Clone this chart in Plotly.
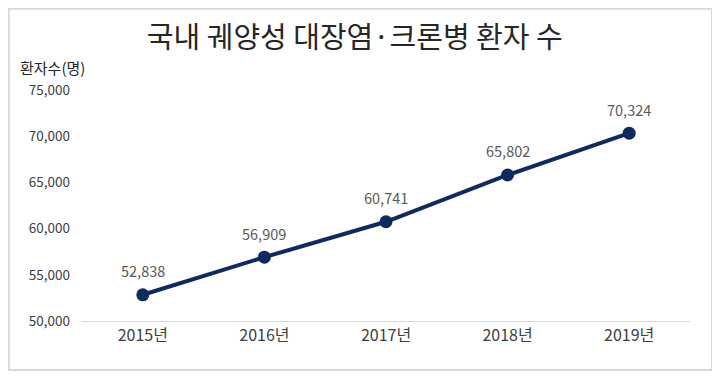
import plotly.graph_objects as go

years = ["2015년", "2016년", "2017년", "2018년", "2019년"]
patients = [52838, 56909, 60741, 65802, 70324]
y_ticks = [50000, 55000, 60000, 65000, 70000, 75000]
y_ticktext = ["50,000", "55,000", "60,000", "65,000", "70,000", "75,000"]
title_text = "국내 궤양성 대장염·크론병 환자 수"
y_title = "환자수(명)"

font_family = "Noto Sans CJK KR, Noto Sans, sans-serif"

fig = go.Figure()
fig.add_trace(go.Scatter(
    x=years, y=patients,
    mode="lines+markers",
    line=dict(color="#0e2a5e", width=4),
    marker=dict(color="#0e2a5e", size=13),
    cliponaxis=False,
    hoverinfo="skip",
))

annotations = [dict(text=f"{v:,}", x=yr, y=v, xref="x", yref="y",
                    yshift=24, showarrow=False, yanchor="middle",
                    font=dict(size=14.5, color="#595959"))
               for yr, v in zip(years, patients)]
annotations.append(dict(text=y_title, xref="paper", yref="paper",
                        x=-0.105, y=1.045, xanchor="left", yanchor="bottom",
                        showarrow=False, font=dict(size=15, color="#262626")))

fig.update_layout(
    width=712, height=369,
    margin=dict(l=74, r=30, t=82, b=56),
    paper_bgcolor="white", plot_bgcolor="white",
    showlegend=False,
    font=dict(family=font_family, color="#404040"),
    title=dict(text=title_text, x=0.487, xanchor="center", y=0.918, yanchor="middle",
               font=dict(size=29, color="#262626", family=font_family)),
    xaxis=dict(
        showgrid=False, showline=True, linecolor="#d9d9d9", linewidth=1,
        ticks="", tickfont=dict(size=16, color="#404040"),
        range=[-0.5, 4.5], fixedrange=True,
    ),
    yaxis=dict(
        range=[50000, 75000], tickvals=y_ticks, ticktext=y_ticktext,
        showgrid=False, zeroline=False, showline=False, ticks="",
        tickfont=dict(size=13.5, color="#404040"), ticklabelstandoff=11,
    ),
    shapes=[dict(type="rect", xref="paper", yref="paper",
                 x0=-0.1205, x1=1.0362, y0=-0.2121, y1=1.3517,
                 line=dict(color="#d9d9d9", width=2), fillcolor="rgba(0,0,0,0)",
                 layer="below")],
    annotations=annotations,
)

fig.write_html("out.html")
